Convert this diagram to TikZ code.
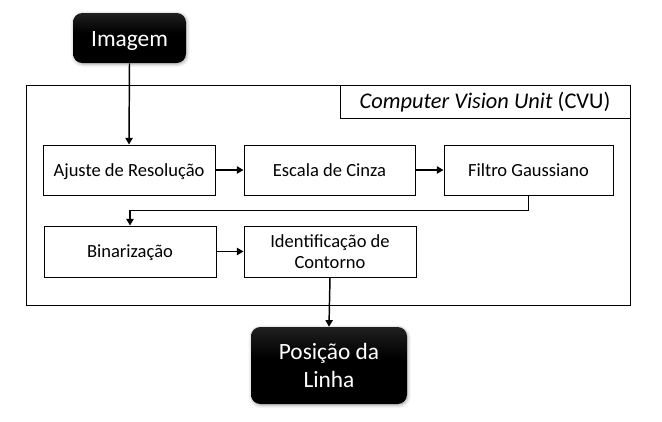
\documentclass[tikz,border=0pt]{standalone}
\usepackage{fontspec}
\setmainfont{Carlito}
\usetikzlibrary{arrows.meta,shadows.blur}
\pgfdeclareverticalshading{darkbox}{100bp}{color(0bp)=(black); color(55bp)=(black); color(100bp)=(black!72)}
\tikzset{
  px/.style={x=0.75pt,y=-0.75pt},
  stepbox/.style={draw=black,line width=0.75pt,fill=white,inner sep=0pt,align=center,
    font=\fontsize{13.9}{16.3}\selectfont},
  oneline/.style={text height=9pt,text depth=0pt},
  termbox/.style={rounded corners=7pt,shading=darkbox,text=white,align=center,inner sep=0pt,
    font=\fontsize{17.5}{20.5}\selectfont,
    blur shadow={shadow xshift=0.6pt,shadow yshift=-0.9pt,shadow blur steps=6,shadow blur radius=2.5pt,shadow opacity=35}},
  arr/.style={line width=1.1pt,-{Triangle[length=5pt,width=5.5pt]}}
}
\begin{document}
\begin{tikzpicture}[px]
\useasboundingbox (0,0) rectangle (662,422);
% outer CVU frame
\node[draw=black,line width=0.75pt,minimum width=604*0.75pt,minimum height=220*0.75pt,inner sep=0pt] (cvu) at (328,195) {};
\node[draw=black,line width=0.75pt,minimum width=290*0.75pt,minimum height=33*0.75pt,inner sep=0pt,
  text height=11pt,text depth=0pt,
  font=\fontsize{16.8}{18}\selectfont] (cvulabel) at (485,101.5) {\textit{Computer Vision Unit} (CVU)};
% steps
\node[stepbox,oneline,minimum width=172*0.75pt,minimum height=50*0.75pt] (ajuste) at (129,170) {Ajuste de Resolução};
\node[stepbox,oneline,minimum width=171*0.75pt,minimum height=50*0.75pt] (escala) at (329.5,170) {Escala de Cinza};
\node[stepbox,oneline,minimum width=169*0.75pt,minimum height=50*0.75pt] (filtro) at (528.5,170) {Filtro Gaussiano};
\node[stepbox,oneline,minimum width=172*0.75pt,minimum height=51*0.75pt] (binar) at (130,251.5) {Binarização};
\node[stepbox,minimum width=172*0.75pt,minimum height=51*0.75pt] (ident) at (330,251.5) {Identificação de\\Contorno};
% terminals
\node[termbox,text height=11.3pt,text depth=0pt,minimum width=113*0.75pt,minimum height=50*0.75pt] (imagem) at (129.5,38) {\raisebox{-0.9pt}{Imagem}};
\node[termbox,minimum width=156*0.75pt,minimum height=77*0.75pt] (posicao) at (329,365.5) {Posição da\\Linha};
% connectors
\draw[arr] (imagem.south) -- (ajuste.north);
\draw[arr] (ajuste.east) -- (escala.west);
\draw[arr] (escala.east) -- (filtro.west);
\draw[arr] (filtro.south) -- ++(0,15) -| (binar.north);
\draw[arr] (binar.east) -- (ident.west);
\draw[arr] (ident.south) -- (posicao.north);
\end{tikzpicture}
\end{document}
